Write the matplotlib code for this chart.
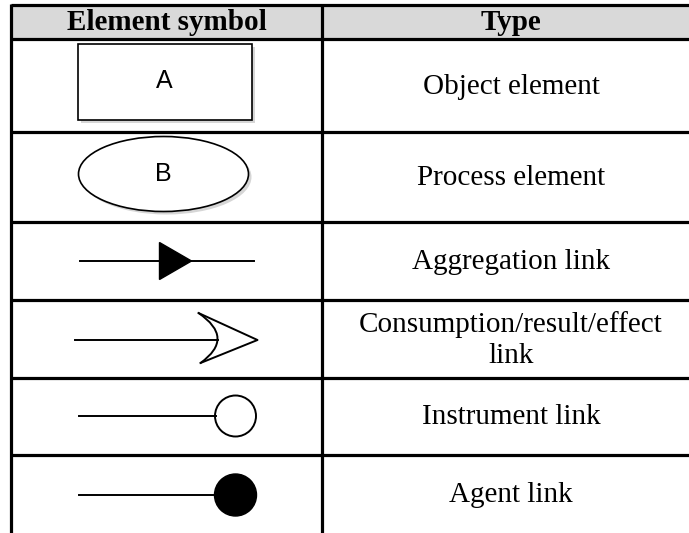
import matplotlib.pyplot as plt
from matplotlib.patches import Rectangle, Ellipse, Circle, Polygon, PathPatch
from matplotlib.path import Path

# table content
headers = ["Element symbol", "Type"]
symbols = ["object", "process", "aggregation", "consumption", "instrument", "agent"]
symbol_letters = {"object": "A", "process": "B"}
types = ["Object element", "Process element", "Aggregation link",
         "Consumption/result/effect\nlink", "Instrument link", "Agent link"]

# layout (pixels, y going down)
W, H = 689, 533
left, mid, right = 11, 322, 700
top, head_bot = 5, 39
row_edges = [39, 132, 222, 300, 378, 455, 533]
border_lw = 2.3
sym_lw = 1.4

fig = plt.figure(figsize=(W / 100, H / 100), dpi=100)
ax = fig.add_axes([0, 0, 1, 1])
ax.set_xlim(0, W)
ax.set_ylim(H, 0)
ax.axis("off")

serif = ["Liberation Serif", "DejaVu Serif"]
sans = ["Liberation Sans", "DejaVu Sans"]

# header
ax.add_patch(Rectangle((left, top), right - left, head_bot - top,
                       facecolor="#d9d9d9", edgecolor="none"))
ax.text((left + mid) / 2, (top + head_bot) / 2 + 1, headers[0], ha="center", va="center",
        fontsize=21, fontweight="bold", family=serif)
ax.text((mid + right) / 2, (top + head_bot) / 2 + 1, headers[1], ha="center", va="center",
        fontsize=21, fontweight="bold", family=serif)

# grid lines
ax.plot([left, right], [top, top], color="black", lw=border_lw, solid_capstyle="butt")
for y in row_edges[:-1]:
    ax.plot([left, right], [y, y], color="black", lw=border_lw, solid_capstyle="butt")
for x in (left, mid):
    ax.plot([x, x], [top - 1, H], color="black", lw=border_lw, solid_capstyle="butt")

shadow = dict(facecolor="#bbbbbb", edgecolor="none", alpha=0.6)

for i, (kind, label) in enumerate(zip(symbols, types)):
    y0, y1 = row_edges[i], row_edges[i + 1]
    cy = (y0 + y1) / 2
    cx = (left + mid) / 2
    ax.text((mid + right) / 2, cy + 1, label, ha="center", va="center",
            fontsize=21, family=serif, linespacing=1.25)

    if kind == "object":
        w, h = 174, 76
        ax.add_patch(Rectangle((cx - 2 - w / 2 + 3, cy - 4 - h / 2 + 3), w, h, **shadow))
        ax.add_patch(Rectangle((cx - 2 - w / 2, cy - 4 - h / 2), w, h,
                               facecolor="white", edgecolor="black", lw=1.2))
        ax.text(cx - 2, cy - 4, symbol_letters[kind], ha="center", va="center",
                fontsize=18, family=sans)
    elif kind == "process":
        w, h = 170, 75
        ax.add_patch(Ellipse((cx - 3 + 3, cy - 3 + 3), w, h, **shadow))
        ax.add_patch(Ellipse((cx - 3, cy - 3), w, h,
                             facecolor="white", edgecolor="black", lw=1.2))
        ax.text(cx - 3, cy - 3, symbol_letters[kind], ha="center", va="center",
                fontsize=18, family=sans)
    elif kind == "aggregation":
        ax.plot([cx - 87, cx + 87], [cy, cy], color="black", lw=sym_lw)
        ax.add_patch(Polygon([(cx - 7, cy - 18.5), (cx + 25, cy), (cx - 7, cy + 18.5)],
                             closed=True, facecolor="black", edgecolor="black"))
    elif kind == "consumption":
        ax.plot([cx - 92, cx + 51], [cy + 1, cy + 1], color="black", lw=sym_lw)
        p0, tip, p2 = (cx + 32, cy - 26), (cx + 91, cy + 1), (cx + 34, cy + 24)
        ax.plot([p0[0], tip[0], p2[0]], [p0[1], tip[1], p2[1]], color="black", lw=sym_lw)
        curve = Path([p0, (cx + 69, cy - 1), p2], [Path.MOVETO, Path.CURVE3, Path.CURVE3])
        ax.add_patch(PathPatch(curve, facecolor="none", edgecolor="black", lw=sym_lw))
    elif kind == "instrument":
        ax.plot([cx - 88, cx + 49], [cy - 0.5, cy - 0.5], color="black", lw=sym_lw)
        ax.add_patch(Circle((cx + 69, cy - 0.5), 20.5, facecolor="white",
                            edgecolor="black", lw=sym_lw))
    elif kind == "agent":
        ax.plot([cx - 88, cx + 49], [cy + 1, cy + 1], color="black", lw=sym_lw)
        ax.add_patch(Circle((cx + 69, cy + 1), 21, facecolor="black", edgecolor="black"))

fig.savefig("out.png", dpi=100)
